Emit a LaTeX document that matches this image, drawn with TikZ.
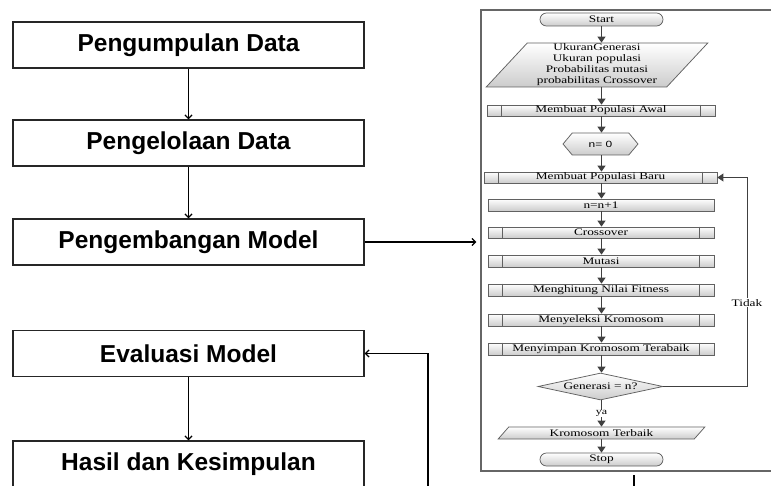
\documentclass[tikz,border=0pt]{standalone}
\usepackage{fontspec}
\usepackage{graphicx}
\newfontfamily\flowfont{Liberation Serif}
\newfontfamily\hexfont{Liberation Sans}
\newfontfamily\tahapfont{Liberation Sans}
\newcommand{\lebar}[1]{\scalebox{1.33}[1]{#1}}
\usetikzlibrary{arrows.meta, shapes.geometric, shapes.symbols}

\begin{document}
\begin{tikzpicture}[x=1pt, y=-1pt,
  tahap/.style={draw=black!85, line width=1.3pt, minimum width=351pt, minimum height=46pt, inner sep=0pt,
    font=\tahapfont\bfseries\fontsize{24.5}{28}\selectfont},
  panah/.style={line width=1.3pt, -{Straight Barb[length=3.5pt,width=7pt]}},
  flowshade/.style={draw=black!62, line width=0.75pt, top color=white, bottom color=black!20, inner sep=0pt,
    font=\flowfont\fontsize{10}{11}\selectfont},
  proses/.style={flowshade, rectangle, minimum width=226pt, minimum height=12pt},
  terminal/.style={flowshade, rectangle, rounded corners=6.5pt, minimum width=123pt, minimum height=13pt},
  dataio/.style={flowshade, trapezium, trapezium left angle=50, trapezium right angle=130, trapezium stretches=true},
  alur/.style={line width=1.1pt, draw=black!75, -{Triangle[length=6pt,width=8pt]}},
]
  \useasboundingbox (0,0) rectangle (771,486);
  \clip (0,0) rectangle (771,486);

  % tahapan penelitian
  \node[tahap] (kumpul) at (188.5,45) {Pengumpulan Data};
  \node[tahap] (kelola) at (188.5,143) {Pengelolaan Data};
  \node[tahap] (kembang) at (188.5,242) {Pengembangan Model};
  \node[tahap] (evaluasi) at (188.5,353.5) {Evaluasi Model};
  \node[tahap] (simpul) at (188.5,464) {Hasil dan Kesimpulan};
  \draw[panah] (kumpul) -- (kelola);
  \draw[panah] (kelola) -- (kembang);
  \draw[panah] (evaluasi) -- (simpul);

  % flowchart algoritma genetika
  \node[draw=black!60, line width=1.2pt, minimum width=320pt, minimum height=461pt, inner sep=0pt] (bingkai) at (641,240.5) {};
  \draw[panah, shorten >=4pt] (kembang.east) -- (kembang.east -| bingkai.west);
  \coordinate (balik) at (428,492);
  \draw[panah] (balik) |- (evaluasi.east);
  \coordinate (lanjutA) at (634,475);
  \coordinate (lanjutB) at (634,492);
  \draw[line width=1.2pt] (lanjutA) -- (lanjutB);

  \node[terminal] (start) at (601.5,19.5) {\lebar{Start}};
  \node[dataio, minimum width=222pt, minimum height=44pt, align=center] (input) at (597,65)
    {\lebar{UkuranGenerasi}\\\lebar{Ukuran populasi}\\\lebar{Probabilitas mutasi}\\\lebar{probabilitas Crossover}};
  \node[proses, minimum width=228pt, minimum height=11pt] (awal) at (601,110.5) {\lebar{Membuat Populasi Awal}};
  \node[flowshade, signal, signal to=east and west, signal pointer angle=100, minimum width=75pt, minimum height=22pt,
    font=\hexfont\fontsize{9}{10}\selectfont] (nol) at (600.5,144) {\lebar{n= 0}};
  \node[proses, minimum width=233pt, minimum height=11pt] (baru) at (600.5,177.5) {\lebar{Membuat Populasi Baru}};
  \node[proses] (tambah) at (601,205) {\lebar{n=n+1}};
  \node[proses, minimum height=11pt] (cross) at (601,232.5) {\lebar{Crossover}};
  \node[proses] (mutasi) at (601,261) {\lebar{Mutasi}};
  \node[proses] (fitness) at (601,290) {\lebar{Menghitung Nilai Fitness}};
  \node[proses] (seleksi) at (601,320) {\lebar{Menyeleksi Kromosom}};
  \node[proses] (simpan) at (601,349) {\lebar{Menyimpan Kromosom Terabaik}};
  \node[flowshade, diamond, aspect=4.6, minimum width=125pt, minimum height=27pt] (gen) at (600.5,386.5) {\lebar{Generasi = n?}};
  \node[dataio, minimum width=207pt, minimum height=12pt] (terbaik) at (601.5,433) {\lebar{Kromosom Terbaik}};
  \node[terminal] (stop) at (601.5,459.5) {\lebar{Stop}};

  \foreach \n in {awal,baru,cross,mutasi,fitness,seleksi,simpan}
    \draw[black!62, line width=0.75pt] ([xshift=15pt]\n.north west) -- ([xshift=15pt]\n.south west)
      ([xshift=-15pt]\n.north east) -- ([xshift=-15pt]\n.south east);

  \foreach \a/\b in {start/input, input/awal, awal/nol, nol/baru, baru/tambah, tambah/cross, cross/mutasi,
      mutasi/fitness, fitness/seleksi, seleksi/simpan, simpan/gen, terbaik/stop}
    \draw[alur] (\a.south -| start) -- (\b.north -| start);
  \draw[alur] (gen.south -| start) -- node[fill=white, inner sep=0.5pt, font=\flowfont\fontsize{9}{10}\selectfont] {\lebar{ya}} (terbaik.north -| start);
  \coordinate (belok) at (747,386.5);
  \draw[alur, line width=0.8pt] (gen.east) -- (belok) |- node[pos=0.2, fill=white, inner sep=1pt,
    font=\flowfont\fontsize{10}{11}\selectfont] {\lebar{Tidak}} (baru.east);
\end{tikzpicture}
\end{document}
